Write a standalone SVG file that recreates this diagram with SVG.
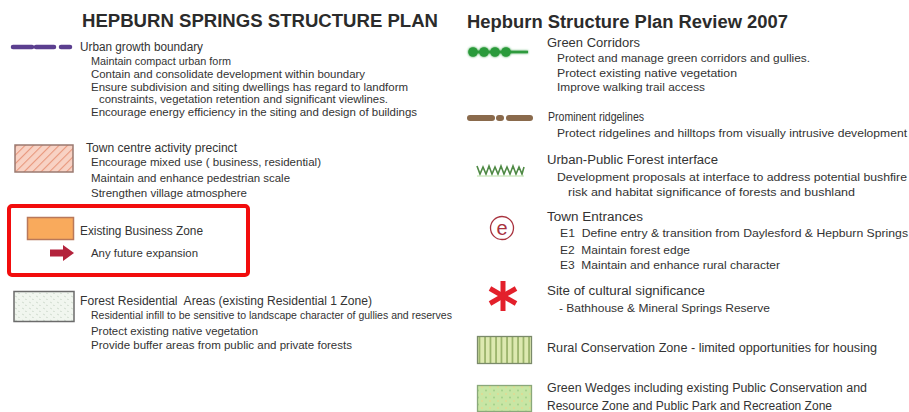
<svg xmlns="http://www.w3.org/2000/svg" width="909" height="412" viewBox="0 0 909 412">
  <defs>
    <style>
      .title { font-family: "Liberation Sans", Arial, sans-serif; font-weight: bold; font-size: 18px; fill: #2b2b2b; }
      .head { font-family: "Liberation Sans", Arial, sans-serif; font-size: 12px; fill: #333; }
      .sub { font-family: "Liberation Sans", Arial, sans-serif; font-size: 11.5px; fill: #333; }
    </style>
    <pattern id="hatchPink" width="6" height="6" patternUnits="userSpaceOnUse" patternTransform="rotate(45)">
      <rect width="6" height="6" fill="#f8d2c4"/>
      <line x1="0" y1="0" x2="0" y2="6" stroke="#e8977c" stroke-width="2.2"/>
    </pattern>
    <pattern id="forestDots" width="7" height="6" patternUnits="userSpaceOnUse">
      <rect width="7" height="6" fill="#f1f6ef"/>
      <path d="M1 2 l2 1 M4 5 l2 1" stroke="#c9d6c6" stroke-width="0.8"/>
    </pattern>
    <pattern id="ruralStripes" width="5.5" height="10" patternUnits="userSpaceOnUse">
      <rect width="5.5" height="10" fill="#dde9b0"/>
      <line x1="1" y1="0" x2="1" y2="10" stroke="#7b9a4a" stroke-width="1.2"/>
    </pattern>
    <pattern id="wedgeDots" width="8" height="7" patternUnits="userSpaceOnUse">
      <rect width="8" height="7" fill="#c8e6a4"/>
      <circle cx="2" cy="2" r="0.9" fill="#e6d890"/>
      <circle cx="6" cy="5.5" r="0.9" fill="#9fcf88"/>
    </pattern>
    <filter id="soft" x="-20%" y="-50%" width="140%" height="200%">
      <feGaussianBlur stdDeviation="1.2" result="b"/>
      <feMerge><feMergeNode in="b"/><feMergeNode in="SourceGraphic"/></feMerge>
    </filter>
  </defs>

  <rect width="909" height="412" fill="#ffffff"/>

  <!-- Column titles -->
  <g id="title-left">
    <text class="title" x="82" y="27" textLength="356" lengthAdjust="spacingAndGlyphs">HEPBURN SPRINGS STRUCTURE PLAN</text>
  </g>
  <g id="title-right">
    <text class="title" x="467" y="28" textLength="321" lengthAdjust="spacingAndGlyphs">Hepburn Structure Plan Review 2007</text>
  </g>

  <!-- Urban growth boundary -->
  <g id="urban-growth-boundary">
    <g stroke="#5b3f8f" stroke-width="4.5" stroke-linecap="round">
      <line x1="13" y1="47" x2="32" y2="47"/>
      <line x1="36" y1="47" x2="54" y2="47"/>
      <line x1="61" y1="47" x2="70" y2="47"/>
    </g>
    <text class="head" x="80" y="51" textLength="123" lengthAdjust="spacingAndGlyphs">Urban growth boundary</text>
    <text class="sub" x="91" y="65" textLength="140" lengthAdjust="spacingAndGlyphs">Maintain compact urban form</text>
    <text class="sub" x="91" y="78" textLength="274" lengthAdjust="spacingAndGlyphs">Contain and consolidate development within boundary</text>
    <text class="sub" x="91" y="91" textLength="317" lengthAdjust="spacingAndGlyphs">Ensure subdivision and siting dwellings has regard to landform</text>
    <text class="sub" x="99" y="103" textLength="289" lengthAdjust="spacingAndGlyphs">constraints, vegetation retention and significant viewlines.</text>
    <text class="sub" x="91" y="116" textLength="326" lengthAdjust="spacingAndGlyphs">Encourage energy efficiency in the siting and design of buildings</text>
  </g>

  <!-- Town centre activity precinct -->
  <g id="town-centre-precinct">
    <rect x="15" y="145" width="58" height="27" fill="url(#hatchPink)" stroke="#9a7a70" stroke-width="1.5"/>
    <text class="head" x="86" y="152" textLength="151" lengthAdjust="spacingAndGlyphs">Town centre activity precinct</text>
    <text class="sub" x="91" y="166" textLength="230" lengthAdjust="spacingAndGlyphs">Encourage mixed use ( business, residential)</text>
    <text class="sub" x="91" y="182" textLength="199" lengthAdjust="spacingAndGlyphs">Maintain and enhance pedestrian scale</text>
    <text class="sub" x="91" y="197" textLength="156" lengthAdjust="spacingAndGlyphs">Strengthen village atmosphere</text>
  </g>

  <!-- Existing business zone (highlighted) -->
  <g id="existing-business-zone">
    <rect x="9" y="206" width="239" height="69" rx="3" fill="none" stroke="#f20d0d" stroke-width="4"/>
    <rect x="27.5" y="217.5" width="46" height="22" fill="#f9aa5c" stroke="#b9785a" stroke-width="1.5"/>
    <text class="head" x="80" y="235" textLength="123" lengthAdjust="spacingAndGlyphs">Existing Business Zone</text>
    <path d="M50 249.5 H63 V245 L74 253 L63 261 V256.5 H50 Z" fill="#b3233c"/>
    <text class="sub" x="91" y="257" textLength="107" lengthAdjust="spacingAndGlyphs">Any future expansion</text>
  </g>

  <!-- Forest residential areas -->
  <g id="forest-residential">
    <rect x="14" y="291.5" width="60" height="30" fill="url(#forestDots)" stroke="#6b6b6b" stroke-width="1.5"/>
    <text class="head" x="80" y="305" textLength="292" lengthAdjust="spacingAndGlyphs" xml:space="preserve">Forest Residential  Areas (existing Residential 1 Zone)</text>
    <text class="sub" x="91" y="319" textLength="361" lengthAdjust="spacingAndGlyphs">Residential infill to be sensitive to landscape character of gullies and reserves</text>
    <text class="sub" x="91" y="335" textLength="167" lengthAdjust="spacingAndGlyphs">Protect existing native vegetation</text>
    <text class="sub" x="91" y="349" textLength="261" lengthAdjust="spacingAndGlyphs">Provide buffer areas from public and private forests</text>
  </g>

  <!-- Green corridors -->
  <g id="green-corridors">
    <g filter="url(#soft)">
      <line x1="470" y1="52" x2="528" y2="52" stroke="#2f9a3c" stroke-width="2.5"/>
      <g fill="#2c9a3a">
        <circle cx="473" cy="52" r="4.8"/>
        <circle cx="484" cy="52" r="4.8"/>
        <circle cx="495" cy="52" r="4.8"/>
        <circle cx="506" cy="52" r="4.8"/>
      </g>
    </g>
    <text class="head" x="547" y="47" textLength="93" lengthAdjust="spacingAndGlyphs">Green Corridors</text>
    <text class="sub" x="557" y="62" textLength="253" lengthAdjust="spacingAndGlyphs">Protect and manage green corridors and gullies.</text>
    <text class="sub" x="557" y="77" textLength="180" lengthAdjust="spacingAndGlyphs">Protect existing native vegetation</text>
    <text class="sub" x="557" y="91" textLength="148" lengthAdjust="spacingAndGlyphs">Improve walking trail access</text>
  </g>

  <!-- Prominent ridgelines -->
  <g id="prominent-ridgelines">
    <g stroke="#8a6a4c" stroke-width="6" stroke-linecap="round">
      <line x1="470" y1="118" x2="492" y2="118"/>
      <line x1="499" y1="118" x2="501" y2="118"/>
      <line x1="509" y1="118" x2="530" y2="118"/>
    </g>
    <text class="head" x="548" y="121" textLength="96" lengthAdjust="spacingAndGlyphs">Prominent ridgelines</text>
    <text class="sub" x="557" y="137" textLength="350" lengthAdjust="spacingAndGlyphs">Protect ridgelines and hilltops from visually intrusive development</text>
  </g>

  <!-- Urban-public forest interface -->
  <g id="forest-interface">
    <polyline points="477,166 480,174 483,167 486,174 489,166 492,174 495,167 498,174 501,166 504,174 507,167 510,174 513,166 516,174 519,167 522,174 524,167" fill="none" stroke="#4f8a45" stroke-width="1.6"/>
    <line x1="477" y1="176" x2="524" y2="176" stroke="#b8e0a6" stroke-width="1"/>
    <text class="head" x="547" y="164" textLength="171" lengthAdjust="spacingAndGlyphs">Urban-Public Forest interface</text>
    <text class="sub" x="557" y="181" textLength="350" lengthAdjust="spacingAndGlyphs">Development proposals at interface to address potential bushfire</text>
    <text class="sub" x="568" y="196" textLength="287" lengthAdjust="spacingAndGlyphs">risk and habitat significance of forests and bushland</text>
  </g>

  <!-- Town entrances -->
  <g id="town-entrances">
    <circle cx="502" cy="228" r="11.5" fill="none" stroke="#a8323e" stroke-width="1.3"/>
    <text x="502" y="235" text-anchor="middle" font-family="Liberation Sans, Arial, sans-serif" font-size="20" fill="#a8323e">e</text>
    <text class="head" x="547" y="221" textLength="96" lengthAdjust="spacingAndGlyphs">Town Entrances</text>
    <text class="sub" x="560" y="237" textLength="348" lengthAdjust="spacingAndGlyphs" xml:space="preserve">E1  Define entry &amp; transition from Daylesford &amp; Hepburn Springs</text>
    <text class="sub" x="560" y="254" textLength="130" lengthAdjust="spacingAndGlyphs" xml:space="preserve">E2  Maintain forest edge</text>
    <text class="sub" x="560" y="269" textLength="220" lengthAdjust="spacingAndGlyphs" xml:space="preserve">E3  Maintain and enhance rural character</text>
  </g>

  <!-- Site of cultural significance -->
  <g id="cultural-site">
    <g stroke="#e3202b" stroke-width="5">
      <line x1="503" y1="281" x2="503" y2="311"/>
      <line x1="490" y1="288.5" x2="516" y2="303.5"/>
      <line x1="490" y1="303.5" x2="516" y2="288.5"/>
    </g>
    <text class="head" x="547" y="295" textLength="158" lengthAdjust="spacingAndGlyphs">Site of cultural significance</text>
    <text class="sub" x="559" y="312" textLength="211" lengthAdjust="spacingAndGlyphs">- Bathhouse &amp; Mineral Springs Reserve</text>
  </g>

  <!-- Rural conservation zone -->
  <g id="rural-conservation">
    <rect x="477.5" y="336.5" width="54" height="27" fill="url(#ruralStripes)" stroke="#7a8a6a" stroke-width="1.3"/>
    <text class="head" x="547" y="352" textLength="330" lengthAdjust="spacingAndGlyphs">Rural Conservation Zone - limited opportunities for housing</text>
  </g>

  <!-- Green wedges -->
  <g id="green-wedges">
    <rect x="477.5" y="385.5" width="54" height="26" fill="url(#wedgeDots)" stroke="#8aa87a" stroke-width="1.3"/>
    <text class="head" x="547" y="392" textLength="320" lengthAdjust="spacingAndGlyphs">Green Wedges including existing Public Conservation and</text>
    <text class="head" x="547" y="410" textLength="285" lengthAdjust="spacingAndGlyphs">Resource Zone and Public Park and Recreation Zone</text>
  </g>
</svg>
